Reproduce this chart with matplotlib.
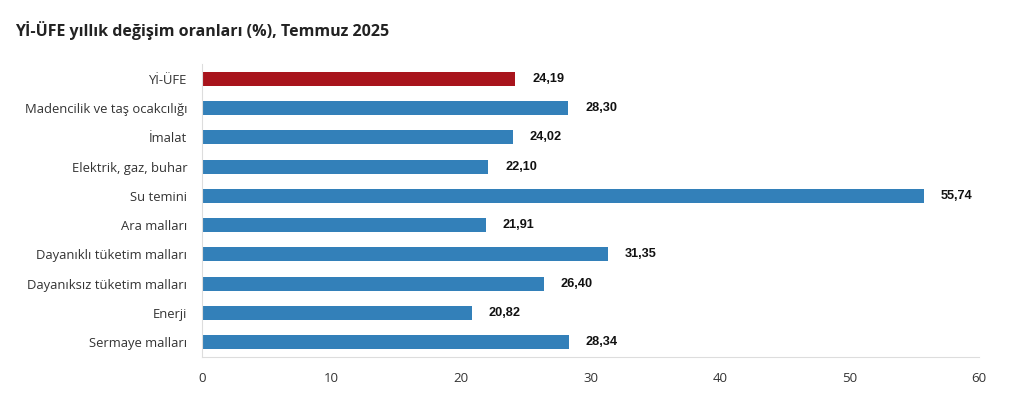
import matplotlib.pyplot as plt

categories = ["Yİ-ÜFE", "Madencilik ve taş ocakcılığı", "İmalat", "Elektrik, gaz, buhar",
              "Su temini", "Ara malları", "Dayanıklı tüketim malları",
              "Dayanıksız tüketim malları", "Enerji", "Sermaye malları"]
values = [24.19, 28.30, 24.02, 22.10, 55.74, 21.91, 31.35, 26.40, 20.82, 28.34]
xticks = [0, 10, 20, 30, 40, 50, 60]

colors = ["#a8141c"] + ["#3380b9"] * (len(values) - 1)

fig = plt.figure(figsize=(10.22, 4.11), dpi=100)
ax = fig.add_axes([202 / 1022, 1 - 357 / 411, 777 / 1022, 293 / 411])

y = list(range(len(categories)))
ax.barh(y, values, height=0.48, color=colors)
ax.set_ylim(len(categories) - 0.5, -0.5)
ax.set_xlim(0, 60)
ax.set_xticks(xticks)
ax.set_yticks(y)
ax.set_yticklabels(categories, fontfamily="Open Sans", fontsize=9.4, color="#333333")
ax.set_xticklabels([str(t) for t in xticks], fontfamily="Open Sans", fontsize=9.5, color="#333333")
ax.tick_params(length=0)
ax.tick_params(axis="y", pad=10.5)
ax.tick_params(axis="x", pad=10.5)

for s in ["top", "right"]:
    ax.spines[s].set_visible(False)
ax.spines["left"].set_color("#dddddd")
ax.spines["bottom"].set_color("#dddddd")

for yi, v in zip(y, values):
    ax.text(v + 1.3, yi, f"{v:.2f}".replace(".", ","), va="center", ha="left",
            fontfamily="Liberation Sans", fontweight="bold", fontsize=9.2, color="#111111")

fig.text(15 / 1022, 1 - 31 / 411, "Yİ-ÜFE yıllık değişim oranları (%), Temmuz 2025",
         fontfamily="Open Sans", fontweight="bold", fontsize=11.5, color="#222222", va="center")

fig.savefig("out.png", dpi=100)
